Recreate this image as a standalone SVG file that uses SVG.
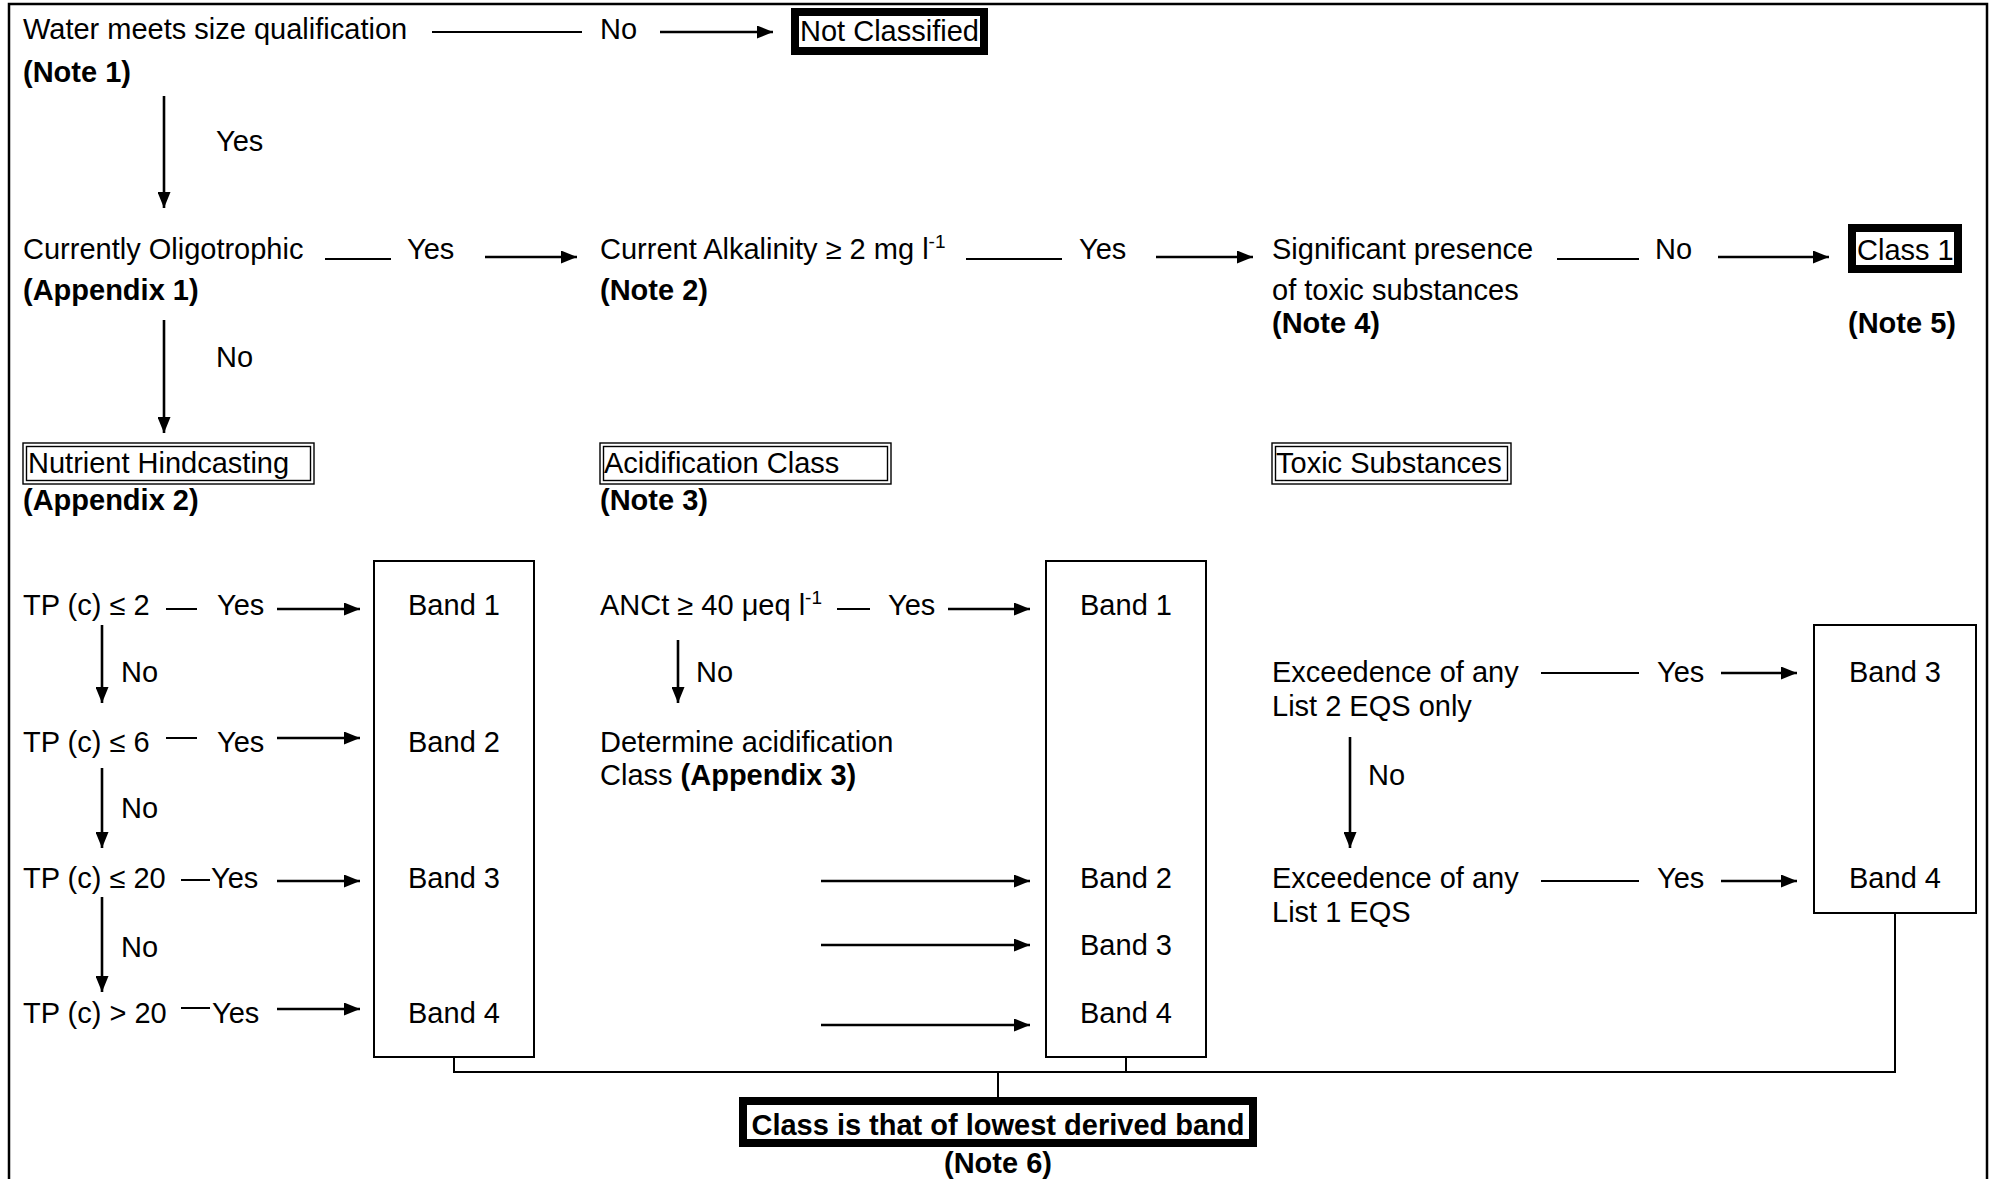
<svg xmlns="http://www.w3.org/2000/svg" width="1992" height="1179" viewBox="0 0 1992 1179">
<defs>
<marker id="ah" markerUnits="userSpaceOnUse" markerWidth="17" markerHeight="13" refX="16" refY="6.5" orient="auto">
<path d="M0,0 L16,6.5 L0,13 z" fill="#000"/>
</marker>
<style>
text{font-family:"Liberation Sans",Arial,Helvetica,sans-serif;font-size:29px;fill:#000}
.b{font-weight:bold}
.m{text-anchor:middle}
.sup{font-size:19px}
.ln{stroke:#000;stroke-width:2;fill:none}
.ar{stroke:#000;stroke-width:2.6;fill:none;marker-end:url(#ah)}
.thick{fill:#fff;stroke:#000;stroke-width:8}
.band{fill:none;stroke:#000;stroke-width:2}
.dbl{fill:none;stroke:#000;stroke-width:1.4}
</style>
</defs>
<rect x="0" y="0" width="1992" height="1179" fill="#fff"/>
<rect x="9" y="4" width="1978" height="1190" fill="none" stroke="#000" stroke-width="2.5"/>

<g id="connectors">
<line class="ln" x1="432" y1="32" x2="582" y2="32"/>
<line class="ar" x1="660" y1="32" x2="773" y2="32"/>
<line class="ar" x1="164" y1="96" x2="164" y2="208"/>
<line class="ln" x1="325" y1="259" x2="391" y2="259"/>
<line class="ar" x1="485" y1="257" x2="577" y2="257"/>
<line class="ln" x1="966" y1="259" x2="1062" y2="259"/>
<line class="ar" x1="1156" y1="257" x2="1253" y2="257"/>
<line class="ln" x1="1557" y1="259" x2="1639" y2="259"/>
<line class="ar" x1="1718" y1="257" x2="1829" y2="257"/>
<line class="ar" x1="164" y1="320" x2="164" y2="433"/>
<line class="ln" x1="166" y1="609" x2="197" y2="609"/>
<line class="ar" x1="277" y1="609" x2="360" y2="609"/>
<line class="ln" x1="166" y1="738" x2="197" y2="738"/>
<line class="ar" x1="277" y1="738" x2="360" y2="738"/>
<line class="ln" x1="181" y1="880" x2="210" y2="880"/>
<line class="ar" x1="277" y1="881" x2="360" y2="881"/>
<line class="ln" x1="181" y1="1008" x2="210" y2="1008"/>
<line class="ar" x1="277" y1="1009" x2="360" y2="1009"/>
<line class="ar" x1="102" y1="625" x2="102" y2="703"/>
<line class="ar" x1="102" y1="768" x2="102" y2="848"/>
<line class="ar" x1="102" y1="897" x2="102" y2="992"/>
<line class="ln" x1="837" y1="609" x2="870" y2="609"/>
<line class="ar" x1="948" y1="609" x2="1030" y2="609"/>
<line class="ar" x1="678" y1="640" x2="678" y2="703"/>
<line class="ar" x1="821" y1="881" x2="1030" y2="881"/>
<line class="ar" x1="821" y1="945" x2="1030" y2="945"/>
<line class="ar" x1="821" y1="1025" x2="1030" y2="1025"/>
<line class="ln" x1="1541" y1="673" x2="1639" y2="673"/>
<line class="ar" x1="1721" y1="673" x2="1797" y2="673"/>
<line class="ar" x1="1350" y1="737" x2="1350" y2="848"/>
<line class="ln" x1="1541" y1="881" x2="1639" y2="881"/>
<line class="ar" x1="1721" y1="881" x2="1797" y2="881"/>
<polyline class="ln" points="454,1057 454,1072 1895,1072 1895,913"/>
<line class="ln" x1="1126" y1="1057" x2="1126" y2="1072"/>
<line class="ln" x1="998" y1="1072" x2="998" y2="1097"/>
</g>

<g id="labels">
<text x="600" y="39">No</text>
<text x="216" y="151">Yes</text>
<text x="407" y="259">Yes</text>
<text x="1079" y="259">Yes</text>
<text x="1655" y="259">No</text>
<text x="216" y="367">No</text>
<text x="217" y="615">Yes</text>
<text x="217" y="752">Yes</text>
<text x="211" y="888">Yes</text>
<text x="212" y="1023">Yes</text>
<text x="121" y="682">No</text>
<text x="121" y="818">No</text>
<text x="121" y="957">No</text>
<text x="888" y="615">Yes</text>
<text x="696" y="682">No</text>
<text x="1657" y="682">Yes</text>
<text x="1368" y="785">No</text>
<text x="1657" y="888">Yes</text>
</g>

<g id="size-qualification">
<text x="23" y="39">Water meets size qualification</text>
<text class="b" x="23" y="82">(Note 1)</text>
</g>
<g id="not-classified">
<rect class="thick" x="795" y="12" width="189" height="39"/>
<text x="800" y="41">Not Classified</text>
</g>
<g id="oligotrophic">
<text x="23" y="259">Currently Oligotrophic</text>
<text class="b" x="23" y="300">(Appendix 1)</text>
</g>
<g id="alkalinity">
<text x="600" y="259">Current Alkalinity ≥ 2 mg l<tspan class="sup" dy="-11">-1</tspan></text>
<text class="b" x="600" y="300">(Note 2)</text>
</g>
<g id="toxic-presence">
<text x="1272" y="259">Significant presence</text>
<text x="1272" y="300">of toxic substances</text>
<text class="b" x="1272" y="333">(Note 4)</text>
</g>
<g id="class1">
<rect class="thick" x="1852" y="228" width="106" height="41"/>
<text x="1857" y="260">Class 1</text>
<text class="b" x="1848" y="333">(Note 5)</text>
</g>
<g id="nutrient-hindcasting">
<rect class="dbl" x="23" y="443" width="291" height="41"/>
<rect class="dbl" x="26.5" y="446.5" width="284" height="34"/>
<text x="28" y="473">Nutrient Hindcasting</text>
<text class="b" x="23" y="510">(Appendix 2)</text>
</g>
<g id="acidification-class">
<rect class="dbl" x="600" y="443" width="291" height="41"/>
<rect class="dbl" x="603.5" y="446.5" width="284" height="34"/>
<text x="604" y="473">Acidification Class</text>
<text class="b" x="600" y="510">(Note 3)</text>
</g>
<g id="toxic-substances">
<rect class="dbl" x="1272" y="443" width="239" height="41"/>
<rect class="dbl" x="1275.5" y="446.5" width="232" height="34"/>
<text x="1276" y="473">Toxic Substances</text>
</g>
<g id="tp-tests">
<text x="23" y="615">TP (c) ≤ 2</text>
<text x="23" y="752">TP (c) ≤ 6</text>
<text x="23" y="888">TP (c) ≤ 20</text>
<text x="23" y="1023">TP (c) &gt; 20</text>
</g>
<g id="nutrient-bands">
<rect class="band" x="374" y="561" width="160" height="496"/>
<text class="m" x="454" y="615">Band 1</text>
<text class="m" x="454" y="752">Band 2</text>
<text class="m" x="454" y="888">Band 3</text>
<text class="m" x="454" y="1023">Band 4</text>
</g>
<g id="anc-test">
<text x="600" y="615">ANCt ≥ 40 μeq l<tspan class="sup" dy="-11">-1</tspan></text>
</g>
<g id="determine-acidification">
<text x="600" y="752">Determine acidification</text>
<text x="600" y="785">Class <tspan class="b">(Appendix 3)</tspan></text>
</g>
<g id="acid-bands">
<rect class="band" x="1046" y="561" width="160" height="496"/>
<text class="m" x="1126" y="615">Band 1</text>
<text class="m" x="1126" y="888">Band 2</text>
<text class="m" x="1126" y="955">Band 3</text>
<text class="m" x="1126" y="1023">Band 4</text>
</g>
<g id="list2">
<text x="1272" y="682">Exceedence of any</text>
<text x="1272" y="716">List 2 EQS only</text>
</g>
<g id="list1">
<text x="1272" y="888">Exceedence of any</text>
<text x="1272" y="922">List 1 EQS</text>
</g>
<g id="toxic-bands">
<rect class="band" x="1814" y="625" width="162" height="288"/>
<text class="m" x="1895" y="682">Band 3</text>
<text class="m" x="1895" y="888">Band 4</text>
</g>
<g id="final-class">
<rect class="thick" x="743" y="1101" width="510" height="42"/>
<text class="b m" x="998" y="1135">Class is that of lowest derived band</text>
<text class="b m" x="998" y="1173">(Note 6)</text>
</g>
</svg>
